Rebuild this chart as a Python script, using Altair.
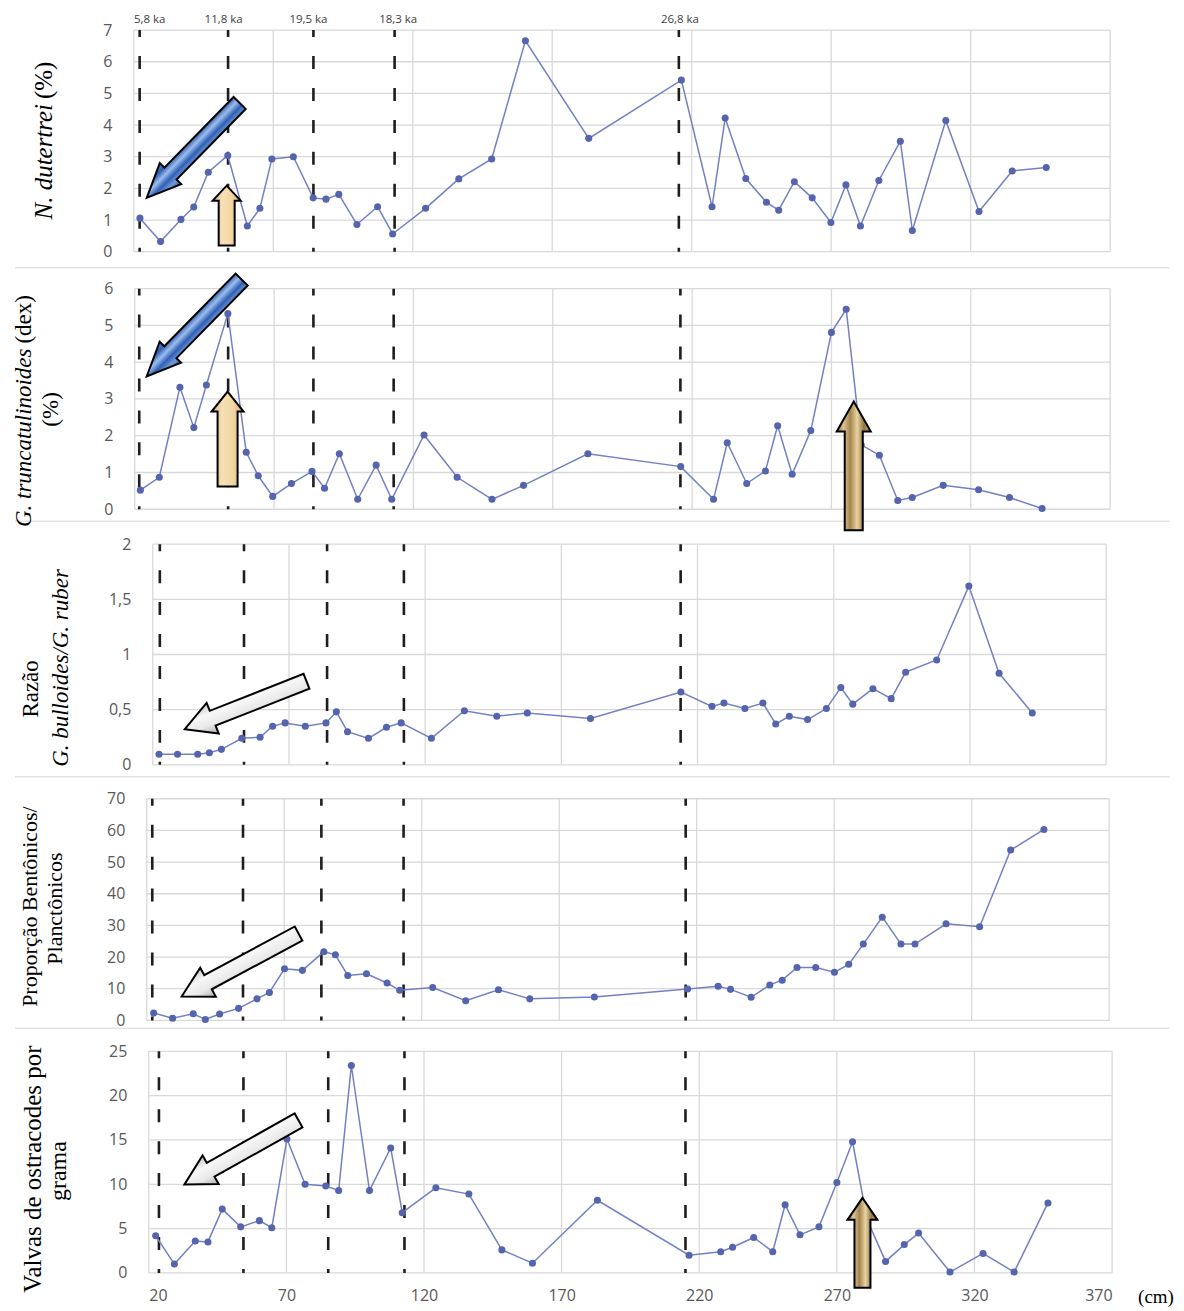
import altair as alt
import pandas as pd

# ---------------- data ----------------
X_TICKS = [20, 70, 120, 170, 220, 270, 320, 370]

# Panel 1: N. dutertrei (%)
depth_ndut = [22.2, 29.6, 36.9, 41.5, 46.7, 53.7, 60.7, 65.2, 69.5, 77.2, 84.3, 88.9, 93.5, 100.0,
              107.4, 112.8, 124.6, 136.5, 148.3, 160.4, 183.1, 216.3, 227.3, 232.0, 239.4, 246.8,
              251.2, 256.8, 263.2, 269.9, 275.3, 280.5, 287.1, 294.8, 299.1, 311.1, 323.0, 334.9, 347.1]
ndut = [1.06, 0.32, 1.02, 1.41, 2.51, 3.04, 0.81, 1.37, 2.93, 3.0, 1.70, 1.66, 1.81, 0.86, 1.42,
        0.56, 1.37, 2.30, 2.93, 6.66, 3.58, 5.42, 1.42, 4.22, 2.31, 1.56, 1.31, 2.21, 1.70, 0.92,
        2.11, 0.81, 2.25, 3.49, 0.67, 4.14, 1.27, 2.55, 2.66]

# Panel 2: G. truncatulinoides (dex) (%)
depth_gtru = [22.0, 28.8, 36.2, 41.2, 45.7, 53.4, 60.0, 64.3, 69.5, 76.2, 83.6, 88.1, 93.4, 100.0,
              106.6, 112.2, 123.8, 135.7, 148.2, 159.5, 182.6, 215.9, 227.7, 232.6, 239.6, 246.3,
              250.7, 255.9, 262.6, 270.0, 275.3, 280.7, 287.2, 293.8, 299.0, 310.1, 322.8, 333.9, 345.6]
gtru = [0.52, 0.87, 3.32, 2.22, 3.38, 5.32, 1.55, 0.91, 0.35, 0.70, 1.03, 0.57, 1.51, 0.27, 1.20,
        0.27, 2.02, 0.87, 0.27, 0.65, 1.51, 1.16, 0.27, 1.81, 0.70, 1.04, 2.27, 0.95, 2.14, 4.81,
        5.44, 1.75, 1.47, 0.24, 0.32, 0.65, 0.53, 0.32, 0.02]

# Panel 3: razão G. bulloides / G. ruber
depth_ratio = [22.3, 29.1, 36.5, 40.8, 45.2, 52.7, 59.4, 64.0, 68.6, 76.0, 83.6, 87.4, 91.5, 99.2,
               105.8, 111.2, 122.3, 134.4, 146.3, 157.5, 180.7, 213.9, 225.3, 229.7, 237.4, 244.0,
               248.7, 253.7, 260.4, 267.3, 272.6, 277.0, 284.4, 291.1, 296.4, 307.8, 319.6, 330.7, 342.9]
ratio = [0.096, 0.096, 0.096, 0.11, 0.14, 0.24, 0.25, 0.35, 0.38, 0.35, 0.38, 0.48, 0.30, 0.24,
         0.34, 0.38, 0.24, 0.49, 0.44, 0.47, 0.42, 0.66, 0.53, 0.56, 0.51, 0.56, 0.37, 0.44, 0.41,
         0.51, 0.70, 0.55, 0.69, 0.60, 0.84, 0.95, 1.62, 0.83, 0.47]

# Panel 4: proporção bentônicos / planctônicos
depth_bp = [22.5, 29.4, 36.9, 41.3, 46.5, 53.4, 60.1, 64.6, 70.1, 76.6, 84.4, 88.6, 93.1, 99.9,
            107.4, 112.0, 124.0, 136.0, 147.9, 159.3, 182.8, 216.7, 227.8, 232.3, 239.8, 246.6,
            251.1, 256.5, 263.3, 270.1, 275.3, 280.6, 287.5, 294.3, 299.4, 310.7, 322.9, 334.2, 346.3]
bp = [2.3, 0.7, 2.1, 0.3, 2.0, 3.8, 6.8, 8.8, 16.3, 15.8, 21.7, 20.7, 14.2, 14.7, 11.8, 9.5, 10.4,
      6.2, 9.7, 6.8, 7.4, 9.9, 10.8, 9.8, 7.3, 11.2, 12.7, 16.7, 16.7, 15.2, 17.7, 24.1, 32.6, 24.1,
      24.1, 30.5, 29.6, 53.8, 60.3]

# Panel 5: valvas de ostracodes por grama
depth_ostr = [22.5, 29.3, 36.9, 41.5, 46.7, 53.4, 60.2, 64.7, 70.2, 76.8, 84.3, 89.0, 93.6, 100.2,
              107.9, 112.1, 124.3, 136.3, 148.3, 159.4, 183.0, 216.3, 227.8, 232.1, 239.8, 246.7,
              251.2, 256.6, 263.5, 270.0, 275.7, 281.0, 287.7, 294.5, 299.7, 311.1, 323.1, 334.4, 346.7]
ostr = [4.2, 1.0, 3.6, 3.5, 7.2, 5.2, 5.9, 5.1, 15.1, 10.0, 9.8, 9.3, 23.4, 9.3, 14.1, 6.8, 9.6,
        8.9, 2.6, 1.1, 8.2, 2.0, 2.4, 2.9, 4.0, 2.4, 7.7, 4.3, 5.2, 10.2, 14.8, 6.0, 1.3, 3.2, 4.5,
        0.1, 2.2, 0.1, 7.9]

# age markers (dashed lines) per panel
age_labels = ["5,8 ka", "11,8 ka", "19,5 ka", "18,3 ka", "26,8 ka"]
age_label_pos = [25.7, 52.2, 82.6, 114.8, 215.8]
dash_ndut = [22.1, 53.8, 84.4, 113.5, 215.4]
dash_gtru = [21.6, 53.5, 84.1, 112.9, 215.8]
dash_ratio = [22.6, 53.5, 84.0, 112.2, 213.8]
dash_bp = [22.0, 55.0, 83.5, 113.4, 216.0]
dash_ostr = [23.7, 54.4, 85.2, 112.9, 215.0]

# ---------------- style ----------------
W = 982
LINE = "#7381c3"
DOT = "#5464ad"
GRID = "#d9d9d9"
SANS = "Open Sans"
SERIF = "Liberation Serif"


def grad(colors):
    n = len(colors)
    return {"gradient": "linear", "x1": 0, "x2": 1, "y1": 0, "y2": 0,
            "stops": [{"offset": i / (n - 1), "color": c} for i, c in enumerate(colors)]}


def arrow_path(L, head_hw, shaft_hw, head_len):
    u = L / 2.0
    hw, sw, b = head_hw / u, shaft_hw / u, -1 + head_len / u
    pts = [(0, -1), (hw, b), (sw, b), (sw, 1), (-sw, 1), (-sw, b), (-hw, b)]
    return "M" + " L".join(f"{x:.3f},{y:.3f}" for x, y in pts) + " Z"


BLUE = grad(["#2a55a8", "#6f9ad8", "#3060b4", "#9bbcec", "#2f5cb0", "#5f8bd0"])
TAN = grad(["#d9b57a", "#f6e0b5", "#f1d6a2", "#d6b276"])
GOLD = grad(["#8a6c38", "#dcc28e", "#a6864f", "#e8d3a2", "#957640", "#cfb27a"])
GRAY = grad(["#a9a9a9", "#e9e9e9", "#f7f7f7", "#c4c4c4"])


def panel(xs, ys, dashes, ymax, yticks, xr, H, HV, titles, arrows, show_x=False, extra=None,
          sep=None):
    # H: plot height, HV: view height (plot sits at the top of the view)
    xscale = alt.Scale(domain=[20, 370], range=xr, nice=False, zero=False)
    yscale = alt.Scale(domain=[0, ymax], range=[H, 0], nice=False, zero=True)
    yaxis = alt.Axis(values=yticks, grid=False, domain=False, ticks=False, title=None,
                     labelColor="#595959", labelFont=SANS, labelFontSize=16, labelPadding=22,
                     offset=-xr[0], labelExpr="replace(format(datum.value, '~g'), '.', ',')")
    if show_x:
        xaxis = alt.Axis(values=X_TICKS, grid=False, domain=False, ticks=False, title=None,
                         labelColor="#595959", labelFont=SANS, labelFontSize=16, labelPadding=15,
                         format="d")
    else:
        xaxis = None
    X = alt.X("x:Q", scale=xscale, axis=xaxis)
    Y = alt.Y("y:Q", scale=yscale, axis=yaxis)

    df = pd.DataFrame({"x": xs, "y": ys})
    layers = []
    if sep is not None:
        layers.append(alt.Chart(pd.DataFrame({"t": [0]})).mark_rule(
            color="#e4e4e4", strokeWidth=1.5).encode(
            x=alt.value(-119), x2=alt.value(W + 56), y=alt.value(H + sep)))
    gy = alt.Chart(pd.DataFrame({"y": yticks, "x": 20, "x2": 370})).mark_rule(
        color=GRID, strokeWidth=1.3).encode(x=X, x2="x2:Q", y=Y)
    gx = alt.Chart(pd.DataFrame({"x": X_TICKS, "y": 0, "y2": ymax})).mark_rule(
        color=GRID, strokeWidth=1.3).encode(x=X, y=Y, y2="y2:Q")
    dl = alt.Chart(pd.DataFrame({"x": dashes})).mark_rule(
        color="#1e1e1e", strokeWidth=2.6, strokeDash=[13, 19], strokeDashOffset=6).encode(
        x=X, y=alt.value(0), y2=alt.value(H))
    ln = alt.Chart(df).mark_line(color=LINE, strokeWidth=1.5).encode(x=X, y=Y)
    pt = alt.Chart(df).mark_circle(size=50, color=DOT, opacity=1).encode(x=X, y=Y)
    layers += [gy, gx, dl, ln, pt]

    for (ax, ay, L, ang, hhw, shw, hl, fill) in arrows:
        layers.append(
            alt.Chart(pd.DataFrame({"x": [ax], "y": [ay]})).mark_point(
                shape=arrow_path(L, hhw, shw, hl), size=L * L, angle=ang, filled=True,
                fill=fill, stroke="black", strokeWidth=2, opacity=1, fillOpacity=1,
                strokeOpacity=1).encode(x=X, y=Y))

    for (txt, tx, ty, style, align, fs) in titles:
        layers.append(
            alt.Chart(pd.DataFrame({"t": [txt]})).mark_text(
                angle=270, font=SERIF, fontSize=fs, fontStyle=style, align=align,
                baseline="middle", color="black").encode(
                x=alt.value(tx), y=alt.value(ty), text="t:N"))

    if extra is not None:
        layers.extend(extra(X, Y, H))
    return alt.layer(*layers).properties(width=W, height=HV)


def ka_labels(X, Y, H):
    return [alt.Chart(pd.DataFrame({"x": age_label_pos, "t": age_labels})).mark_text(
        font=SANS, fontSize=11.5, color="#404040", baseline="middle").encode(
        x=X, y=alt.value(-10), text="t:N")]


def cm_label(X, Y, H):
    return [alt.Chart(pd.DataFrame({"t": ["(cm)"]})).mark_text(
        font=SERIF, fontSize=19, color="black", align="left", baseline="middle").encode(
        x=alt.value(1006), y=alt.value(H + 24), text="t:N")]


p1 = panel(depth_ndut, ndut, dash_ndut, 7, [0, 1, 2, 3, 4, 5, 6, 7], [0, 978], 222, 228,
           titles=[("N. dutertrei", -90, 74, "italic", "right", 25),
                   ("(%)", -90, 69, "normal", "left", 25)],
           arrows=[(41.3, 3.2, 133, 224.4, 15, 8.5, 34, BLUE),
                   (53.3, 1.14, 60, 0, 14, 8, 15, TAN)],
           extra=ka_labels, sep=16)

p2 = panel(depth_gtru, gtru, dash_gtru, 6, [0, 1, 2, 3, 4, 5, 6], [1, 978], 221, 225,
           titles=[("G. truncatulinoides", -110, 60, "italic", "right", 23),
                   ("(dex)", -110, 55, "normal", "left", 23),
                   ("(%)", -83, 121, "normal", "center", 23)],
           arrows=[(41.3, 4.93, 136, 224.4, 15, 8.5, 34, BLUE),
                   (53.3, 1.91, 95, 0, 16, 10, 20, TAN),
                   (278.0, 1.18, 129, 0, 17, 9, 30, GOLD)],
           sep=12)

p3 = panel(depth_ratio, ratio, dash_ratio, 2, [0, 0.5, 1, 1.5, 2], [19, 974], 221, 224,
           titles=[("Razão", -103, 145, "normal", "center", 23),
                   ("G. bulloides/G. ruber", -73, 124, "italic", "center", 23)],
           arrows=[(54.1, 0.54, 131, 248.5, 16.5, 8, 30, GRAY)],
           sep=12)

p4 = panel(depth_bp, bp, dash_bp, 70, [0, 10, 20, 30, 40, 50, 60, 70], [13, 977], 222, 222,
           titles=[("Proporção Bentônicos/", -104, 108, "normal", "center", 22),
                   ("Planctônicos", -79, 110, "normal", "center", 22)],
           arrows=[(53.95, 17.5, 133, 241.7, 16.5, 8, 30, GRAY)],
           sep=8)

p5 = panel(depth_ostr, ostr, dash_ostr, 25, [0, 5, 10, 15, 20, 25], [15, 980], 222, 222,
           titles=[("Valvas de ostracodes por", -101, 118, "normal", "center", 25),
                   ("grama", -75, 120, "normal", "center", 24)],
           arrows=[(53.7, 13.6, 131, 240.7, 16.5, 8, 30, GRAY),
                   (279.3, 3.4, 90, 0, 15, 8, 22, GOLD)],
           show_x=True, extra=cm_label)

chart = alt.vconcat(p1, p2, p3, p4, p5, spacing=31, bounds="flush").configure_view(
    strokeWidth=0).properties(
    padding={"left": 5, "top": 5, "right": 2, "bottom": 0}, background="white")

chart.save("out.html", embed_options={"renderer": "svg", "actions": False})
